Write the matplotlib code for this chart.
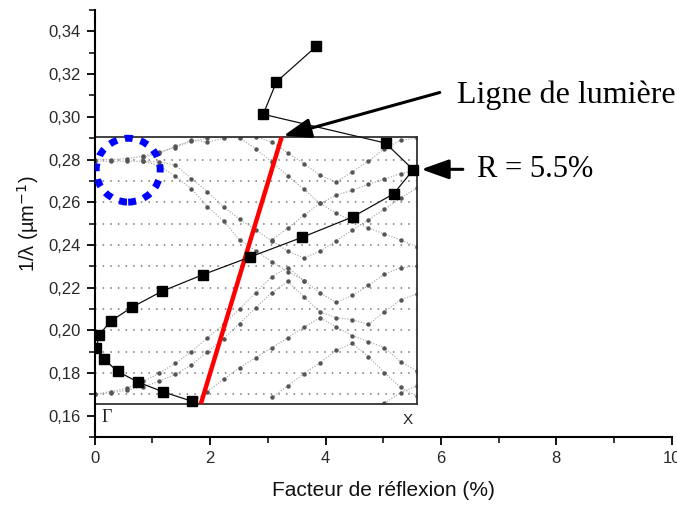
import matplotlib
matplotlib.use('Agg')
import matplotlib.pyplot as plt
from matplotlib.patches import Ellipse
from matplotlib.ticker import MultipleLocator, FuncFormatter

# ---------------- data ----------------
# reflection factor (%) vs 1/lambda (um^-1), black squares
refl = [1.69, 1.19, 0.75, 0.40, 0.16, 0.03, 0.075, 0.28, 0.64, 1.16, 1.88, 2.69,
        3.59, 4.47, 5.18, 5.52, 5.04, 2.92, 3.15, 3.84]
inv_lambda = [0.1667, 0.1711, 0.1757, 0.1807, 0.1864, 0.1917, 0.1978, 0.2043, 0.2107,
              0.2182, 0.2261, 0.2343, 0.2435, 0.2531, 0.2639, 0.2752, 0.2877, 0.3012,
              0.3164, 0.3330]

# light line (red)
light_x = [1.84, 3.24]
light_y = [0.1656, 0.2905]

# band diagram inset: extent in main-axis units and k-path Gamma -> X
inset_xmax = 5.58
inset_ymin, inset_ymax = 0.1656, 0.2907
grid_levels = [0.17, 0.18, 0.19, 0.20, 0.21, 0.22, 0.23, 0.24, 0.25, 0.26, 0.27, 0.28]
k = [0.00, 0.05, 0.10, 0.15, 0.20, 0.25, 0.30, 0.35, 0.40, 0.45, 0.50,
     0.55, 0.60, 0.65, 0.70, 0.75, 0.80, 0.85, 0.90, 0.95, 1.00]
N = None
band_A = [0.280, 0.280, 0.2804, 0.2816, 0.2835, 0.2856, 0.2885, 0.2901, 0.2907, 0.2901, 0.2851,
          0.2787, 0.2723, 0.2661, 0.2594, 0.2548, 0.2512, 0.2479, 0.2451, 0.2423, 0.2392]
band_D1 = [0.2792, 0.2792, 0.2792, 0.2792, 0.2788, 0.2775, 0.2711, 0.2649, 0.2579, 0.2520, 0.2470,
           0.2419, 0.2370, 0.2339, 0.2370, 0.2419, 0.2470, 0.2517, 0.2568, 0.2619, 0.2666]
band_D2 = [N, N, N, 0.2792, 0.2772, 0.2722, 0.2664, 0.2579, 0.2513, 0.2423, 0.2373,
           0.2321, 0.2274, 0.2233, N, N, N, N, N, N, N]
band_G2 = [N, N, N, 0.2810, 0.2829, 0.2862, 0.2890, 0.2882, 0.2899, 0.2906, N,
           N, N, N, N, N, N, N, N, N, N]
band_V1 = [N, N, N, N, N, N, N, N, N, N, 0.2907,
           0.2882, 0.2830, 0.2781, 0.2726, 0.2695, 0.2742, 0.2793, 0.2851, 0.2890, 0.2901]
band_R1 = [0.1700, 0.1713, 0.1728, 0.1760, 0.1798, 0.1845, 0.1899, 0.1965, 0.2027, 0.2101, 0.2176,
           0.2251, 0.2294, 0.2233, 0.2175, 0.2131, 0.2163, 0.2210, 0.2263, 0.2293, 0.2302]
band_R2 = [0.1700, 0.1707, 0.1719, 0.1736, 0.1760, 0.1794, 0.1837, 0.1899, 0.1961, 0.2031, 0.2106,
           0.2176, 0.2229, 0.2156, 0.2086, 0.2059, 0.2050, 0.2027, 0.2086, 0.2143, 0.2170]
band_R3 = [N, N, N, N, N, N, N, N, N, N, N,
           0.2423, 0.2479, 0.2540, 0.2594, 0.2633, 0.2656, 0.2684, 0.2708, 0.2734, 0.2750]
band_B3 = [N, N, N, N, N, N, 0.1658, 0.1713, 0.1770, 0.1825, 0.1871,
           0.1918, 0.1965, 0.2016, 0.2058, 0.2016, 0.1975, 0.1947, 0.1918, 0.1853, 0.1809]
band_B4 = [N, N, N, N, N, N, N, N, N, N, N,
           0.1685, 0.1739, 0.1797, 0.1848, 0.1906, 0.1938, 0.1876, 0.1801, 0.1732, 0.1692]
band_B5 = [N, N, N, N, N, N, N, N, N, N, N,
           N, N, N, N, N, N, N, 0.1658, 0.1708, 0.1739]
bands = [band_A, band_D1, band_D2, band_G2, band_V1, band_R1, band_R2, band_R3,
         band_B3, band_B4, band_B5]

# highlighted region (blue dashed circle)
circle_center = (0.58, 0.2750)
circle_size = (1.11, 0.0299)

xticks = [0, 2, 4, 6, 8, 10]
yticks = [0.16, 0.18, 0.20, 0.22, 0.24, 0.26, 0.28, 0.30, 0.32, 0.34]

# ---------------- figure ----------------
plt.rcParams['font.family'] = ['Liberation Sans', 'DejaVu Sans']
fig = plt.figure(figsize=(6.77, 5.05), dpi=100)
ax = fig.add_axes([0.1399, 0.1347, 0.8523, 0.8453])
ax.set_xlim(0, 10)
ax.set_ylim(0.15, 0.35)

for s in ['top', 'right']:
    ax.spines[s].set_visible(False)
for s in ['left', 'bottom']:
    ax.spines[s].set_linewidth(1.5)

ax.set_xticks(xticks)
ax.set_yticks(yticks)
ax.xaxis.set_minor_locator(MultipleLocator(1))
ax.yaxis.set_minor_locator(MultipleLocator(0.01))
ax.yaxis.set_major_formatter(FuncFormatter(lambda v, p: f"{v:.2f}".replace('.', ',')))
ax.tick_params(which='major', direction='out', length=6, width=1.3, labelsize=12,
               labelcolor='#2a2a2a', pad=4)
ax.tick_params(which='minor', direction='out', length=4, width=1.1)

ax.set_xlabel('Facteur de réflexion (%)', fontsize=15, color='#111111', labelpad=11)
ax.set_ylabel('1/λ (µm$^{-1}$)', fontsize=14.5, color='#111111', labelpad=5)

# inset band diagram
ax_in = ax.inset_axes([0, inset_ymin, inset_xmax, inset_ymax - inset_ymin],
                      transform=ax.transData)
ax_in.set_zorder(1)
ax_in.patch.set_alpha(0)
ax_in.set_xlim(0, 1)
ax_in.set_ylim(inset_ymin, inset_ymax)
ax_in.set_xticks([])
ax_in.set_yticks([])
for s in ax_in.spines.values():
    s.set_color('#333333')
    s.set_linewidth(1.3)
for lv in grid_levels:
    ax_in.axhline(lv, color='#777777', lw=1.1, linestyle=(0, (1, 4)))
for b in bands:
    ax_in.plot(k, b, color='#a0a0a0', lw=0.8, linestyle=(0, (1, 1.5)),
               marker='o', markersize=3.2, markerfacecolor='#555555',
               markeredgecolor='none')

ax.text(0.12, 0.1590, 'Γ', fontsize=13, family='Liberation Serif', va='center',
        color='#222222')
ax.text(5.43, 0.1580, 'X', fontsize=11, ha='center', va='center', color='#222222')

# red light line
ax.plot(light_x, light_y, color='#ff0000', lw=3.2, solid_capstyle='butt', zorder=3)

# reflection series
ax.plot(refl, inv_lambda, color='#111111', lw=0.9, marker='s', markersize=6.5,
        markerfacecolor='black', markeredgecolor='black', zorder=4)

# blue dashed circle
ell = Ellipse(circle_center, circle_size[0], circle_size[1], fill=False,
              edgecolor='#0000ff', lw=5, linestyle=(0, (1.15, 1.15)), zorder=5)
ax.add_patch(ell)

# annotations
ax.annotate('', xy=(3.27, 0.2911), xytext=(5.98, 0.3114),
            arrowprops=dict(arrowstyle='-|>,head_length=1.4,head_width=0.5',
                            lw=2.2, color='black', shrinkA=0, shrinkB=0,
                            mutation_scale=12),
            annotation_clip=False, zorder=6)
ax.text(6.28, 0.3100, 'Ligne de lumière', fontsize=23, family='Liberation Serif',
        va='center', ha='left', color='black')

ax.annotate('', xy=(5.66, 0.2754), xytext=(6.38, 0.2754),
            arrowprops=dict(arrowstyle='-|>,head_length=1.4,head_width=0.5',
                            lw=2.2, color='black', shrinkA=0, shrinkB=0,
                            mutation_scale=12),
            annotation_clip=False, zorder=6)
ax.text(6.62, 0.2754, 'R = 5.5%', fontsize=22, family='Liberation Serif',
        va='center', ha='left', color='black')

fig.savefig('out.png', dpi=100)
